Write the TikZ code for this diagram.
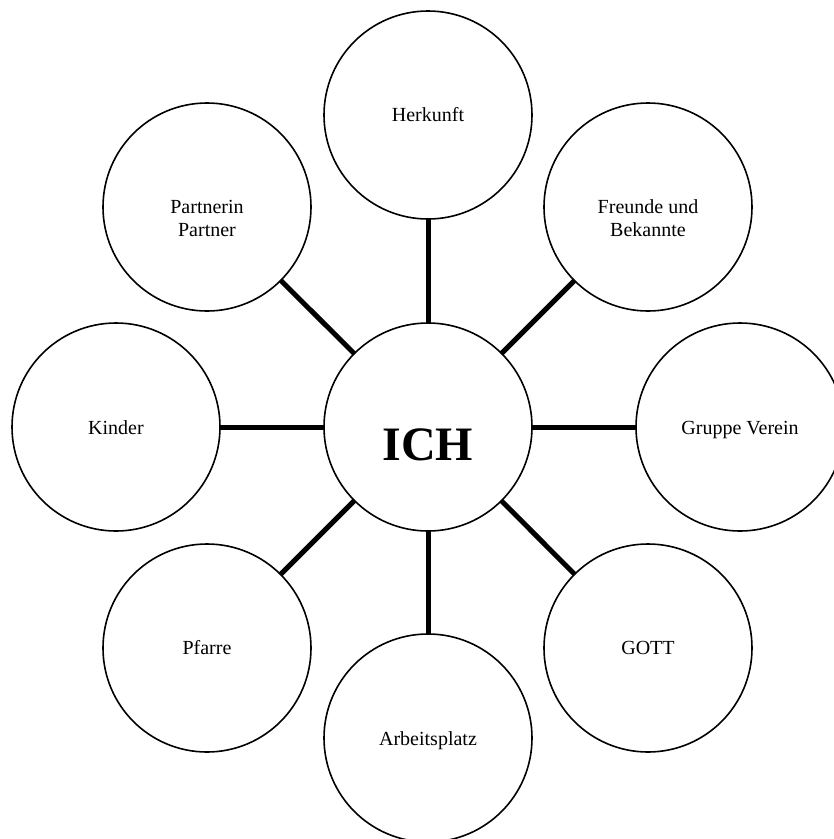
\documentclass[tikz,border=0pt]{standalone}
\usepackage{fontspec}
\setmainfont{Liberation Serif}
\begin{document}
\begin{tikzpicture}[x=1pt,y=-1pt,
  circ/.style={circle,draw,line width=1.6pt,minimum size=208pt,inner sep=0pt,outer sep=0pt},
  lbl/.style={font=\fontsize{20}{23}\selectfont,align=center,inner sep=0pt,anchor=base},
  link/.style={line width=5pt}]
\useasboundingbox (0,0) rectangle (834,839);
\fill[white] (0,0) rectangle (834,839);
\node[circ] (ich)  at (428,427) {};
\node[circ] (herk) at (428,115) {};
\node[circ] (freu) at (648,207) {};
\node[circ] (grup) at (740,427) {};
\node[circ] (gott) at (648,648) {};
\node[circ] (arb)  at (428,738) {};
\node[circ] (pfar) at (207,648) {};
\node[circ] (kind) at (116,427) {};
\node[circ] (part) at (207,207) {};
\draw[link] (ich) -- (herk);
\draw[link] (ich) -- (freu);
\draw[link] (ich) -- (grup);
\draw[link] (ich) -- (gott);
\draw[link] (ich) -- (arb);
\draw[link] (ich) -- (pfar);
\draw[link] (ich) -- (kind);
\draw[link] (ich) -- (part);
\node[font=\bfseries\fontsize{48}{48}\selectfont,inner sep=0pt,anchor=base] (ichT) at (428,460) {ICH};
\node[lbl] (herkT) at (428,121) {Herkunft};
\node[lbl] (freuT) at (648,236) {Freunde und\\Bekannte};
\node[lbl] (grupT) at (740,434) {Gruppe Verein};
\node[lbl] (gottT) at (648,654) {GOTT};
\node[lbl] (arbT)  at (428,745) {Arbeitsplatz};
\node[lbl] (pfarT) at (207,654) {Pfarre};
\node[lbl] (kindT) at (116,434) {Kinder};
\node[lbl] (partT) at (207,236) {Partnerin\\Partner};
\end{tikzpicture}
\end{document}
